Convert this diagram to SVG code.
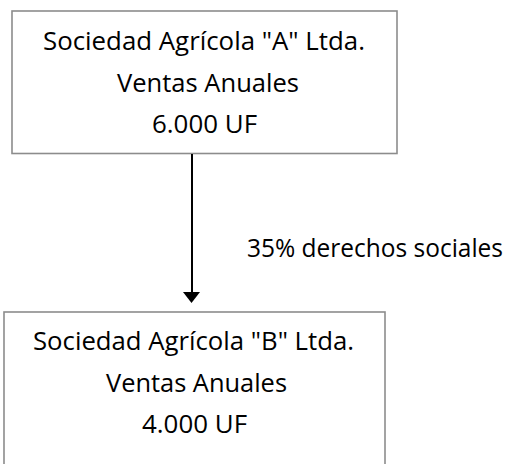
<svg xmlns="http://www.w3.org/2000/svg" width="515" height="464" viewBox="0 0 515 464">
<style>
.box{fill:#fff;stroke:#8c8c8c;stroke-width:1.6}
.t{font-family:"Open Sans","Liberation Sans",sans-serif;font-size:26px;fill:#000}
.conn{stroke:#000;stroke-width:2;fill:none}
</style>
<rect width="515" height="464" fill="#fff"/>
<g id="nodeA">
<rect class="box" x="12" y="11" width="385" height="142.5"/>
<text class="t" x="43" y="50" textLength="322" lengthAdjust="spacingAndGlyphs">Sociedad Agrícola "A" Ltda.</text>
<text class="t" x="117" y="92" textLength="182" lengthAdjust="spacingAndGlyphs">Ventas Anuales</text>
<text class="t" x="152" y="133" textLength="105" lengthAdjust="spacingAndGlyphs">6.000 UF</text>
</g>
<g id="nodeB">
<rect class="box" x="4" y="312" width="381" height="170"/>
<text class="t" x="33" y="350" textLength="321" lengthAdjust="spacingAndGlyphs">Sociedad Agrícola "B" Ltda.</text>
<text class="t" x="106" y="392" textLength="181" lengthAdjust="spacingAndGlyphs">Ventas Anuales</text>
<text class="t" x="142" y="433" textLength="105" lengthAdjust="spacingAndGlyphs">4.000 UF</text>
</g>
<g id="connectors">
<line class="conn" x1="192" y1="154" x2="192" y2="294"/>
<polygon points="183,292 200,292 191.5,303" fill="#000"/>
<text class="t" x="247" y="257" textLength="256" lengthAdjust="spacingAndGlyphs">35% derechos sociales</text>
</g>
</svg>
